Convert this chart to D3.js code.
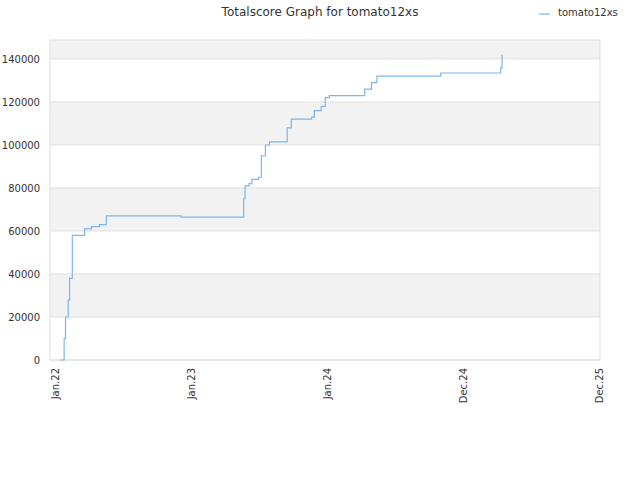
<!DOCTYPE html>
<html><head><meta charset="utf-8">
<script src="https://cdn.jsdelivr.net/npm/d3@7"></script>
<style>body{margin:0;background:#fff}text{font-family:"DejaVu Sans",sans-serif}</style>
</head><body><svg id="c" width="640" height="480"></svg>
<script>
const tickLabels=["Jan.22","Jan.23","Jan.24","Dec.24","Dec.25"];
const yTicks=[0,20000,40000,60000,80000,100000,120000,140000];
const times=[0.03,0.044,0.06,0.07,0.09,0.10,0.12,0.18,0.21,0.26,0.32,0.37,0.91,0.92,1.37,1.38,1.39,1.42,1.44,1.49,1.51,1.54,1.57,1.67,1.70,1.73,1.82,1.88,1.90,1.95,1.98,2.01,2.24,2.27,2.32,2.36,2.80,2.83,3.25,3.27,3.28];
const scores=[0,0,10000,20000,28000,38000,58000,58000,61000,62000,63000,67000,67000,66500,66500,75000,81000,82000,84000,85000,95000,100000,101500,101500,108000,112000,112000,113000,116000,118000,122000,123000,123000,126000,129000,132000,132000,133500,133500,136000,142000];
const svg=d3.select("#c");
const L=50,R=600,T=40,B=360;
const x=d3.scaleLinear().domain([-0.044,4]).range([L,R]);
const y=d3.scaleLinear().domain([0,148837]).range([B,T]);
const g=svg.append("g");
const bands=[[20000,40000],[60000,80000],[100000,120000],[140000,148837]];
g.selectAll("rect.b").data(bands).enter().append("rect").attr("x",L).attr("width",R-L)
 .attr("y",d=>y(d[1])).attr("height",d=>y(d[0])-y(d[1])).attr("fill","#f2f2f2");
g.selectAll("line.g").data(yTicks).enter().append("line").attr("x1",L).attr("x2",R)
 .attr("y1",d=>y(d)).attr("y2",d=>y(d)).attr("stroke","#e0e0e0");
g.append("rect").attr("x",L).attr("y",T).attr("width",R-L).attr("height",B-T).attr("fill","none").attr("stroke","#ddd");
g.selectAll("text.y").data(yTicks).enter().append("text").attr("x",L-10).attr("y",d=>y(d)+4)
 .attr("text-anchor","end").attr("font-size",10).attr("fill","#333").text(d=>d);
tickLabels.forEach((t,i)=>{
 g.append("text").attr("transform",`translate(${x(i)+3},${B+8}) rotate(-90)`).attr("text-anchor","end")
  .attr("font-size",10).attr("fill","#333").text(t);
});
const pts=times.map((t,i)=>[t,scores[i]]);
g.append("path").datum(pts).attr("fill","none").attr("stroke","#7cb5ec").attr("stroke-width",1.2)
 .attr("d",d3.line().x(d=>x(d[0])).y(d=>y(d[1])).curve(d3.curveStepAfter));
svg.append("text").attr("x",320).attr("y",16).attr("text-anchor","middle").attr("font-size",12).attr("fill","#333").text("Totalscore Graph for tomato12xs");
svg.append("line").attr("x1",539).attr("x2",550).attr("y1",14).attr("y2",14).attr("stroke","#7cb5ec").attr("stroke-width",1.2);
svg.append("text").attr("x",558).attr("y",16).attr("font-size",10).attr("fill","#333").text("tomato12xs");
</script></body></html>
